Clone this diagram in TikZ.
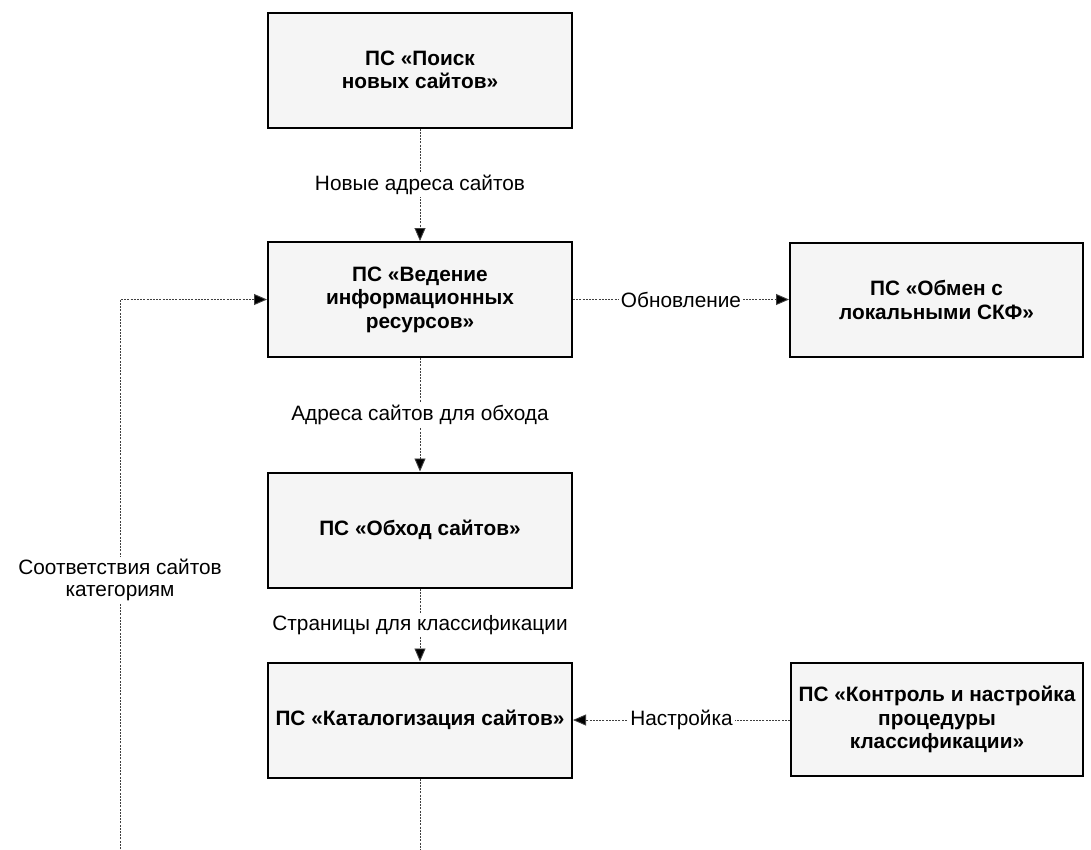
\documentclass[tikz,border=0pt]{standalone}
\usepackage{fontspec}
\setmainfont{Liberation Sans}
\usetikzlibrary{arrows.meta}
\tikzset{
  box/.style={draw=black, line width=2pt, fill=black!4, minimum width=304pt, minimum height=115pt, align=center, inner sep=2pt, font=\fontsize{20.8}{23.5}\selectfont\bfseries},
  flow/.style={draw=black!75, line width=0.9pt, dash pattern=on 2pt off 1.2pt},
  arr/.style={flow, -{Triangle[length=13pt,width=11pt,fill=black]}},
  lbl/.style={fill=white, inner sep=2pt, align=center, font=\fontsize{20.8}{22}\selectfont, text=black}
}
\begin{document}
\begin{tikzpicture}[x=1pt,y=-1pt]
\useasboundingbox (0,0) rectangle (1091,849);
\fill[white] (0,0) rectangle (1091,849);

\node[box] (poisk) at (420,70) {ПС «Поиск\\новых сайтов»};
\node[box] (vedenie) at (420,299.5) {ПС «Ведение\\информационных\\ресурсов»};
\node[box, minimum width=293pt, minimum height=114pt] (obmen) at (936.5,300) {ПС «Обмен с\\локальными СКФ»};
\node[box] (obhod) at (420,530) {ПС «Обход сайтов»};
\node[box] (katalog) at (420,720) {ПС «Каталогизация сайтов»};
\node[box, minimum width=292pt, minimum height=113pt] (kontrol) at (937,719.5) {ПС «Контроль и настройка\\процедуры\\классификации»};

\coordinate (bottomMid) at (420,849);
\coordinate (bottomLeft) at (120,849);
\coordinate (corner) at (120,299.5);

\draw[arr] (poisk.south) -- node[lbl] {Новые адреса сайтов} (vedenie.north);
\draw[arr] (vedenie.east) -- node[lbl] {Обновление} (obmen.west |- vedenie.east);
\draw[arr] (vedenie.south) -- node[lbl] {Адреса сайтов для обхода} (obhod.north);
\draw[arr] (obhod.south) -- node[lbl] {Страницы для классификации} (katalog.north);
\draw[arr] (kontrol.west |- katalog.east) -- node[lbl] {Настройка} (katalog.east);
\draw[flow] (katalog.south) -- (bottomMid);
\draw[arr] (bottomLeft) -- node[lbl, pos=0.49] {Соответствия сайтов\\категориям} (corner) -- (vedenie.west);
\end{tikzpicture}
\end{document}
